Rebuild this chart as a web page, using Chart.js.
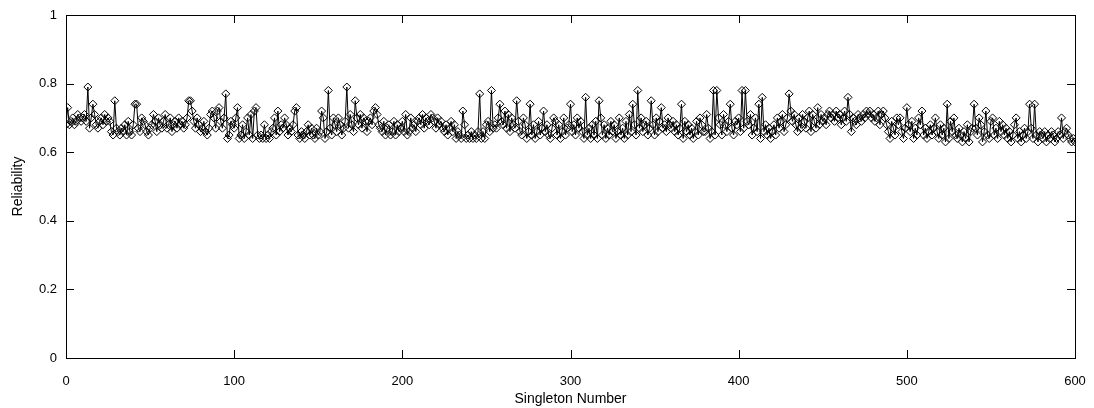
<!DOCTYPE html>
<html>
<head>
<meta charset="utf-8">
<script src="https://cdn.jsdelivr.net/npm/chart.js"></script>
<style>
  html, body { margin: 0; padding: 0; background: #fff; }
  #wrap { width: 1094px; height: 408px; }
</style>
</head>
<body>
<div id="wrap"><canvas id="chart" width="1094" height="408"></canvas></div>
<script>
// singleton number runs 0..600, one reliability value each
const reliability = [
  0.68,0.73,0.68,0.69,0.70,0.68,0.69,0.71,0.70,0.69,0.70,0.71,0.69,0.79,0.67,0.70,0.74,0.71,0.68,0.67,
  0.69,0.70,0.68,0.71,0.69,0.70,0.69,0.66,0.65,0.75,0.67,0.66,0.65,0.67,0.66,0.68,0.65,0.69,0.66,0.65,
  0.68,0.74,0.74,0.67,0.66,0.70,0.69,0.68,0.66,0.65,0.67,0.68,0.71,0.69,0.66,0.70,0.68,0.67,0.69,0.71,
  0.67,0.68,0.70,0.66,0.68,0.69,0.67,0.70,0.68,0.69,0.67,0.68,0.70,0.75,0.75,0.72,0.69,0.67,0.70,0.68,
  0.66,0.67,0.69,0.66,0.65,0.67,0.71,0.72,0.70,0.67,0.72,0.73,0.69,0.67,0.70,0.77,0.64,0.65,0.69,0.68,
  0.67,0.70,0.73,0.64,0.65,0.68,0.64,0.66,0.70,0.65,0.71,0.64,0.72,0.73,0.65,0.64,0.65,0.64,0.68,0.64,
  0.65,0.64,0.66,0.67,0.70,0.65,0.72,0.66,0.68,0.67,0.70,0.68,0.65,0.67,0.66,0.68,0.72,0.73,0.65,0.64,
  0.66,0.65,0.64,0.66,0.68,0.65,0.67,0.65,0.64,0.67,0.65,0.66,0.72,0.70,0.64,0.66,0.78,0.67,0.65,0.70,
  0.68,0.66,0.70,0.68,0.65,0.67,0.69,0.79,0.67,0.71,0.68,0.66,0.75,0.70,0.68,0.71,0.67,0.70,0.69,0.66,
  0.69,0.70,0.68,0.72,0.73,0.71,0.68,0.67,0.66,0.69,0.65,0.67,0.68,0.65,0.66,0.69,0.65,0.68,0.66,0.67,
  0.69,0.66,0.71,0.65,0.66,0.70,0.67,0.68,0.66,0.69,0.70,0.68,0.71,0.67,0.70,0.69,0.68,0.71,0.70,0.69,
  0.67,0.70,0.68,0.69,0.67,0.66,0.68,0.65,0.67,0.69,0.66,0.68,0.64,0.66,0.65,0.64,0.72,0.68,0.64,0.65,
  0.64,0.66,0.64,0.65,0.64,0.66,0.77,0.64,0.66,0.64,0.68,0.69,0.66,0.78,0.67,0.68,0.67,0.70,0.74,0.69,
  0.68,0.72,0.67,0.71,0.66,0.70,0.68,0.67,0.75,0.69,0.66,0.65,0.70,0.68,0.64,0.66,0.74,0.65,0.68,0.64,
  0.66,0.69,0.65,0.67,0.72,0.66,0.68,0.65,0.64,0.67,0.70,0.69,0.65,0.68,0.64,0.66,0.70,0.65,0.67,0.68,
  0.74,0.66,0.68,0.65,0.70,0.67,0.69,0.66,0.64,0.76,0.65,0.67,0.64,0.68,0.65,0.69,0.64,0.75,0.70,0.65,
  0.68,0.64,0.67,0.65,0.69,0.66,0.68,0.64,0.66,0.70,0.65,0.67,0.64,0.69,0.65,0.71,0.66,0.74,0.68,0.65,
  0.78,0.67,0.70,0.66,0.68,0.69,0.65,0.67,0.75,0.68,0.65,0.70,0.66,0.69,0.73,0.67,0.68,0.66,0.70,0.68,
  0.67,0.69,0.66,0.68,0.65,0.67,0.74,0.64,0.69,0.66,0.68,0.65,0.67,0.64,0.66,0.69,0.65,0.70,0.68,0.66,
  0.66,0.71,0.67,0.64,0.66,0.78,0.65,0.78,0.70,0.68,0.65,0.71,0.68,0.66,0.69,0.74,0.67,0.65,0.69,0.68,
  0.70,0.66,0.78,0.67,0.78,0.69,0.68,0.71,0.65,0.67,0.70,0.66,0.74,0.64,0.76,0.66,0.68,0.65,0.67,0.64,
  0.66,0.68,0.65,0.70,0.67,0.69,0.71,0.66,0.68,0.70,0.77,0.72,0.69,0.71,0.68,0.66,0.70,0.67,0.71,0.69,
  0.67,0.70,0.72,0.66,0.71,0.69,0.67,0.73,0.68,0.71,0.69,0.70,0.68,0.71,0.72,0.70,0.71,0.69,0.72,0.70,
  0.71,0.68,0.70,0.72,0.69,0.76,0.71,0.66,0.70,0.69,0.68,0.71,0.70,0.69,0.71,0.70,0.72,0.71,0.72,0.70,
  0.71,0.69,0.70,0.72,0.68,0.71,0.72,0.70,0.68,0.66,0.64,0.69,0.67,0.65,0.70,0.68,0.70,0.66,0.64,0.67,
  0.73,0.68,0.66,0.69,0.64,0.67,0.65,0.70,0.68,0.72,0.65,0.67,0.64,0.66,0.68,0.65,0.67,0.70,0.66,0.64,
  0.68,0.65,0.67,0.63,0.74,0.64,0.69,0.66,0.70,0.65,0.64,0.67,0.65,0.63,0.66,0.64,0.68,0.63,0.66,0.67,
  0.74,0.67,0.65,0.70,0.68,0.63,0.66,0.72,0.65,0.64,0.69,0.70,0.65,0.67,0.64,0.69,0.66,0.68,0.65,0.67,
  0.64,0.66,0.63,0.65,0.68,0.70,0.64,0.66,0.63,0.65,0.67,0.64,0.66,0.74,0.67,0.64,0.74,0.65,0.63,0.66,
  0.65,0.64,0.66,0.63,0.65,0.64,0.66,0.65,0.63,0.64,0.66,0.65,0.70,0.64,0.66,0.67,0.65,0.64,0.63,0.64,0.63
];
const xTicks = [0, 100, 200, 300, 400, 500, 600];
const yTicks = [0, 0.2, 0.4, 0.6, 0.8, 1];
const xTitle = 'Singleton Number';
const yTitle = 'Reliability';

const points = reliability.map((v, i) => ({ x: i, y: v }));

// gnuplot style: border box + inward ticks on all four sides
const frame = {
  id: 'frame',
  afterDraw(chart) {
    const ctx = chart.ctx;
    const a = chart.chartArea;
    const xs = chart.scales.x, ys = chart.scales.y;
    const len = 8;
    ctx.save();
    ctx.strokeStyle = '#000';
    ctx.lineWidth = 1;
    ctx.strokeRect(Math.round(a.left) + 0.5, Math.round(a.top) + 0.5,
                   Math.round(a.right - a.left), Math.round(a.bottom - a.top));
    ctx.beginPath();
    xTicks.forEach(t => {
      const px = Math.round(xs.getPixelForValue(t)) + 0.5;
      ctx.moveTo(px, a.bottom); ctx.lineTo(px, a.bottom - len);
      ctx.moveTo(px, a.top); ctx.lineTo(px, a.top + len);
    });
    yTicks.forEach(t => {
      const py = Math.round(ys.getPixelForValue(t)) + 0.5;
      ctx.moveTo(a.left, py); ctx.lineTo(a.left + len, py);
      ctx.moveTo(a.right, py); ctx.lineTo(a.right - len, py);
    });
    ctx.stroke();
    ctx.restore();
  }
};

Chart.defaults.font.family = '"Liberation Sans", Arial, Helvetica, sans-serif';
Chart.defaults.font.size = 13;
Chart.defaults.color = '#000';

new Chart(document.getElementById('chart'), {
  type: 'line',
  data: {
    datasets: [{
      data: points,
      borderColor: '#000',
      borderWidth: 1,
      pointStyle: 'rectRot',
      pointRadius: 4,
      pointBorderWidth: 1,
      pointBorderColor: '#000',
      pointBackgroundColor: 'rgba(0,0,0,0)',
      tension: 0
    }]
  },
  options: {
    responsive: false,
    animation: false,
    layout: { padding: { top: 15, right: 19, left: 0, bottom: 0 } },
    plugins: { legend: { display: false }, tooltip: { enabled: false } },
    scales: {
      x: {
        type: 'linear',
        min: 0, max: 600,
        afterBuildTicks: s => { s.ticks = xTicks.map(v => ({ value: v })); },
        afterFit: s => { s.height = 50; s.paddingLeft = 0; s.paddingRight = 0; },
        grid: { display: false, drawTicks: false },
        border: { display: false },
        ticks: { padding: 16, maxRotation: 0, callback: v => String(v) },
        title: { display: true, text: xTitle, font: { size: 14 }, padding: { top: 0, bottom: 0 } }
      },
      y: {
        min: 0, max: 1,
        afterBuildTicks: s => { s.ticks = yTicks.map(v => ({ value: v })); },
        afterFit: s => { s.width = 66; s.paddingTop = 0; s.paddingBottom = 0; },
        grid: { display: false, drawTicks: false },
        border: { display: false },
        ticks: { padding: 9, callback: v => (v === 0 || v === 1) ? String(v) : v.toFixed(1) },
        title: { display: true, text: yTitle, font: { size: 14 }, padding: { top: 10, bottom: 0 } }
      }
    }
  },
  plugins: [frame]
});
</script>
</body>
</html>
